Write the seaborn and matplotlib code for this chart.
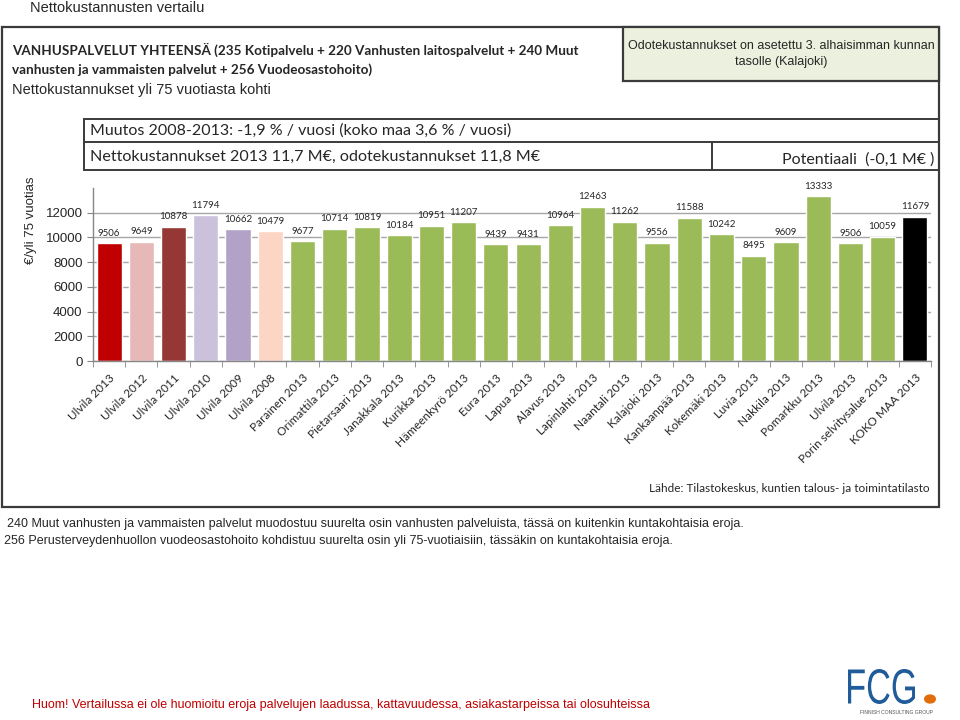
import numpy as np
import pandas as pd
import seaborn as sns
import matplotlib.pyplot as plt
import matplotlib.transforms as mtransforms
from matplotlib.patches import Rectangle, Circle, PathPatch
from matplotlib.textpath import TextPath
from matplotlib.font_manager import FontProperties

# data
kunnat = ['Ulvila 2013', 'Ulvila 2012', 'Ulvila 2011', 'Ulvila 2010', 'Ulvila 2009',
          'Ulvila 2008', 'Parainen 2013', 'Orimattila 2013', 'Pietarsaari 2013',
          'Janakkala 2013', 'Kurikka 2013', 'Hämeenkyrö 2013', 'Eura 2013', 'Lapua 2013',
          'Alavus 2013', 'Lapinlahti 2013', 'Naantali 2013', 'Kalajoki 2013',
          'Kankaanpää 2013', 'Kokemäki 2013', 'Luvia 2013', 'Nakkila 2013',
          'Pomarkku 2013', 'Ulvila 2013', 'Porin selvitysalue 2013', 'KOKO MAA 2013']
euroa = [9506, 9649, 10878, 11794, 10662, 10479, 9677, 10714, 10819, 10184, 10951,
         11207, 9439, 9431, 10964, 12463, 11262, 9556, 11588, 10242, 8495, 9609,
         13333, 9506, 10059, 11679]
ulvila_varit = ['#C00000', '#E6B9B8', '#953735', '#CCC1DA', '#B3A2C7', '#FCD5C5']
vertailu_vari = '#9BBB59'
maa_vari = '#000000'
y_ticks = [0, 2000, 4000, 6000, 8000, 10000, 12000]

varit = ulvila_varit + [vertailu_vari] * (len(kunnat) - len(ulvila_varit) - 1) + [maa_vari]

df = pd.DataFrame({'nro': np.arange(len(kunnat)), 'kunta': kunnat, 'euroa': euroa})

W, H = 960, 720
def fx(x): return x / W
def fy(y): return 1 - y / H

CAL = ['Lato', 'DejaVu Sans']
ARI = ['Liberation Sans', 'DejaVu Sans']

sns.set_style('white')
plt.rcParams['font.family'] = ARI

fig = plt.figure(figsize=(9.6, 7.2), dpi=100)

# frames
edge = '#3a3a3a'
fig.patches.append(Rectangle((fx(2), fy(507)), fx(939) - fx(2), fy(27) - fy(507),
                             transform=fig.transFigure, fill=False, ec=edge, lw=1.6))
fig.patches.append(Rectangle((fx(623), fy(81)), fx(939) - fx(623), fy(27) - fy(81),
                             transform=fig.transFigure, fc='#EBF1DE', ec=edge, lw=1.6))
fig.patches.append(Rectangle((fx(84), fy(170)), fx(939) - fx(84), fy(119) - fy(170),
                             transform=fig.transFigure, fill=False, ec=edge, lw=1.4))
fig.lines.append(plt.Line2D([fx(84), fx(939)], [fy(142), fy(142)], transform=fig.transFigure,
                            color=edge, lw=1.4))
fig.lines.append(plt.Line2D([fx(712), fx(712)], [fy(142), fy(170)], transform=fig.transFigure,
                            color=edge, lw=1.4))

# texts
fig.text(fx(30), fy(8), 'Nettokustannusten vertailu', fontsize=10.5, va='center', family=ARI)
fig.text(fx(12), fy(50), 'VANHUSPALVELUT YHTEENSÄ (235 Kotipalvelu + 220 Vanhusten laitospalvelut + 240 Muut',
         fontsize=9.7, fontweight='bold', va='center', family=CAL)
fig.text(fx(12), fy(70), 'vanhusten ja vammaisten palvelut + 256 Vuodeosastohoito)',
         fontsize=9.7, fontweight='bold', va='center', family=CAL)
fig.text(fx(12), fy(90), 'Nettokustannukset yli 75 vuotiasta kohti', fontsize=10.5, va='center', family=ARI)
fig.text(fx(781), fy(54), 'Odotekustannukset on asetettu 3. alhaisimman kunnan\ntasolle (Kalajoki)',
         fontsize=9, ha='center', va='center', linespacing=1.55, family=ARI)
fig.text(fx(90), fy(131), 'Muutos 2008-2013: -1,9 % / vuosi (koko maa 3,6 % / vuosi)',
         fontsize=11.5, va='center', family=CAL)
fig.text(fx(90), fy(157), 'Nettokustannukset 2013 11,7 M€, odotekustannukset 11,8 M€',
         fontsize=11.6, va='center', family=CAL)
fig.text(fx(934), fy(160), 'Potentiaali  (-0,1 M€ )', fontsize=11.5, ha='right', va='center', family=CAL)
fig.text(fx(930), fy(488), 'Lähde: Tilastokeskus, kuntien talous- ja toimintatilasto',
         fontsize=8.5, ha='right', va='center', family=CAL)
fig.text(fx(7), fy(524), '240 Muut vanhusten ja vammaisten palvelut muodostuu suurelta osin vanhusten palveluista, tässä on kuitenkin kuntakohtaisia eroja.',
         fontsize=9, va='center', family=ARI)
fig.text(fx(4), fy(541), '256 Perusterveydenhuollon vuodeosastohoito kohdistuu suurelta osin yli 75-vuotiaisiin, tässäkin on kuntakohtaisia eroja.',
         fontsize=9, va='center', family=ARI)
fig.text(fx(32), fy(705), 'Huom! Vertailussa ei ole huomioitu eroja palvelujen laadussa, kattavuudessa, asiakastarpeissa tai olosuhteissa',
         fontsize=9, color='#C00000', va='center', family=ARI)

# logo: condensed "FCG" drawn as a path in pixel units
logo = TextPath((0, 0), 'FCG', size=48, prop=FontProperties(family='Liberation Sans'))
lb = logo.get_extents()
sx = 67 / lb.width
sy = 35 / lb.height
logo_tr = mtransforms.Affine2D().translate(-lb.x0, -lb.y0).scale(sx, sy).translate(848, H - 704)
fig.patches.append(PathPatch(logo_tr.transform_path(logo), transform=mtransforms.IdentityTransform(),
                             fc='#1F5C99', ec='none'))
fig.patches.append(Circle((fx(930), fy(699)), 0.0055, transform=fig.transFigure, color='#E36C0A'))
fig.text(fx(896), fy(713), 'FINNISH CONSULTING GROUP', fontsize=3.6, color='#555555',
         ha='center', va='center', family=ARI)

# chart
ax = fig.add_axes([fx(93), fy(361), fx(931) - fx(93), (361 - 187.9) / H])
sns.barplot(data=df, x='nro', y='euroa', hue='nro', palette=varit, legend=False,
            width=0.78, saturation=1, ax=ax)
for c in ax.containers:
    ax.bar_label(c, fmt='%d', padding=4, fontsize=7, family=CAL)

ax.set_ylim(0, 14000)
ax.set_xlim(-0.5, len(kunnat) - 0.5)
ax.set_yticks(y_ticks)
ax.set_yticklabels([str(t) for t in y_ticks], fontsize=9.5)
ax.yaxis.grid(True, color='#A6A6A6', lw=1)
ax.set_axisbelow(True)
ax.set_xticks(np.arange(len(kunnat)))
ax.set_xticklabels(kunnat, rotation=45, ha='right', va='top', rotation_mode='anchor',
                   fontsize=8.5, family=CAL)
shift = mtransforms.ScaledTranslation(-4 / 72, -2 / 72, fig.dpi_scale_trans)
for lab in ax.get_xticklabels():
    lab.set_transform(lab.get_transform() + shift)
ax.set_xticks(np.arange(-0.5, len(kunnat), 1), minor=True)
ax.tick_params(axis='x', which='major', length=0, pad=8)
ax.tick_params(axis='x', which='minor', length=4, color='#868686', direction='out', bottom=True)
ax.tick_params(axis='y', length=4, color='#868686', direction='out', left=True)
ax.set_xlabel('')
ax.set_ylabel('')
for s in ['top', 'right']:
    ax.spines[s].set_visible(False)
for s in ['left', 'bottom']:
    ax.spines[s].set_color('#868686')
    ax.spines[s].set_linewidth(1)

fig.text(fx(31), fy(220), '€/yli 75 vuotias', rotation=90, fontsize=9.5, ha='center', va='center', family=ARI)

fig.savefig('out.png', dpi=100)
